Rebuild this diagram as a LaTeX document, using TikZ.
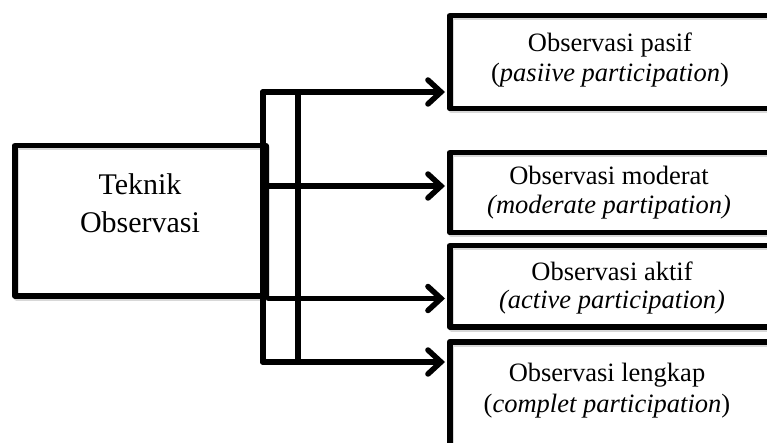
\documentclass[tikz,border=0pt]{standalone}
\usepackage{fontspec}
\setmainfont{Liberation Serif}
\usetikzlibrary{arrows.meta}

\tikzset{
  shade/.style={preaction={draw=black!30, opacity=0.5, transform canvas={shift={(1.5pt,-2pt)}}}},
  frame/.style={draw=black, line width=5.5pt, rectangle, inner sep=0pt, line join=round, shade},
  link/.style={draw=black, line width=5.5pt, line cap=round, line join=round, shade},
  tip/.style={-{Straight Barb[length=13pt, width=24pt, line width=5.5pt, line cap=round]}},
  label/.style={inner sep=0pt, anchor=base, font=\fontsize{26.5}{30}\selectfont},
  biglabel/.style={label, font=\fontsize{30}{36}\selectfont},
}

\begin{document}
\begin{tikzpicture}[x=1pt, y=-1pt]
  \useasboundingbox (0,0) rectangle (767,443);
  \clip (0,0) rectangle (767,443);

  % source box on the left
  \node[frame, anchor=north west, minimum width=251pt, minimum height=150pt] (src) at (12,143) {};
  \node[biglabel] (srcA) at (140,195) {Teknik};
  \node[biglabel] (srcB) at (140,233) {Observasi};

  % the four target boxes, running off the right edge
  \node[frame, anchor=north west, minimum width=326pt, minimum height=93pt] (b1) at (447,13) {};
  \node[frame, anchor=north west, minimum width=326pt, minimum height=80pt] (b2) at (447,150) {};
  \node[frame, anchor=north west, minimum width=326pt, minimum height=81pt] (b3) at (447,243) {};
  \node[frame, anchor=north west, minimum width=326pt, minimum height=140pt] (b4) at (447,339) {};

  \node[label] (b1a) at (610,52) {Observasi pasif};
  \node[label] (b1b) at (610,82) {(\textit{pasiive participation})};
  \node[label] (b2a) at (609,185) {Observasi moderat};
  \node[label] (b2b) at (609,214) {\textit{(moderate partipation)}};
  \node[label] (b3a) at (612,280) {Observasi aktif};
  \begin{scope}
    \clip (450,250) rectangle (773,313);
    \node[label] (b3b) at (612,308) {\textit{(active participation)}};
  \end{scope}
  \node[label] (b4a) at (607,381) {Observasi lengkap};
  \node[label] (b4b) at (607,412) {(\textit{complet participation})};

  % bus lines and arrows
  \coordinate (top) at (263,92);
  \coordinate (bot) at (263,362);
  \coordinate (mid) at (263,186);
  \coordinate (inTop) at (298,95);
  \coordinate (inBot) at (298,362);

  \draw[link, tip, shorten >=2pt] (bot) -- (top) -- (top -| b1.west);
  \draw[link, tip, shorten >=2pt] (top) -- (bot) -- (bot -| b4.west);
  \draw[link, tip, shorten >=2pt] (mid) -- (mid -| b2.west);
  \draw[link, tip, shorten >=2pt] (src.south east) -- (src.south east -| b3.west);
  \draw[link] (inTop) -- (inBot);
\end{tikzpicture}
\end{document}
